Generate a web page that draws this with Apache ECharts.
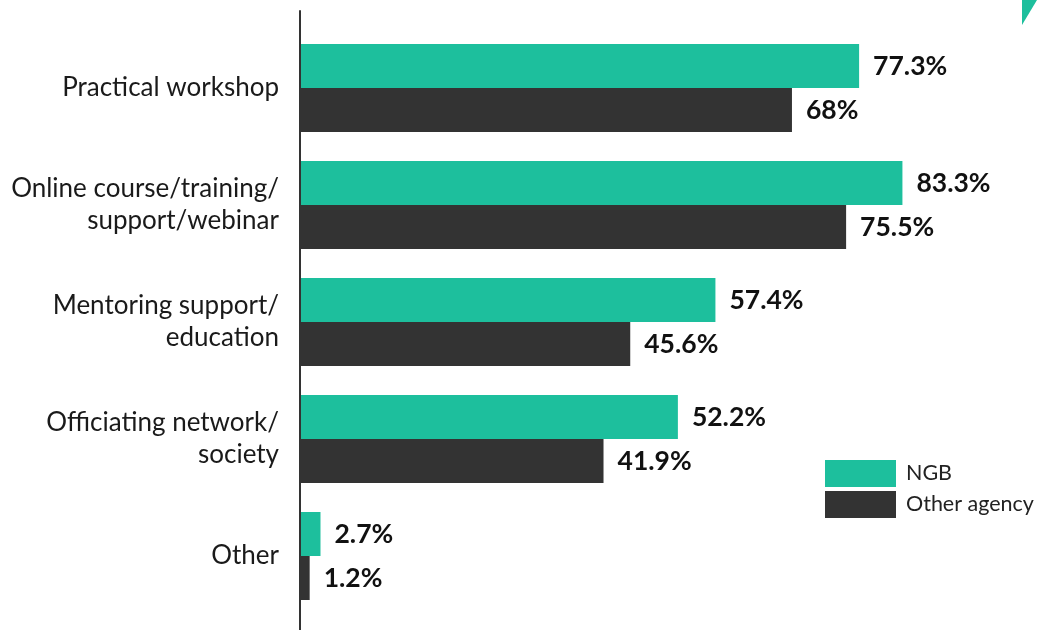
<!DOCTYPE html>
<html>
<head>
<meta charset="utf-8">
<script src="https://cdn.jsdelivr.net/npm/echarts@6/dist/echarts.min.js"></script>
<style>
  html, body { margin: 0; padding: 0; background: #fff; }
  #chart { width: 1038px; height: 630px; }
</style>
</head>
<body>
<div id="chart"></div>
<script>
// Support types and the share of respondents choosing each one
const categories = [
  'Practical workshop',
  'Online course/training/\nsupport/webinar',
  'Mentoring support/\neducation',
  'Officiating network/\nsociety',
  'Other'
];
const seriesNames = ['NGB', 'Other agency'];
const ngbValues = [77.3, 83.3, 57.4, 52.2, 2.7];
const otherAgencyValues = [68, 75.5, 45.6, 41.9, 1.2];

const GREEN = '#1dbf9d';
const DARK = '#333333';
const FONT = 'Lato, "Open Sans", sans-serif';

const chart = echarts.init(document.getElementById('chart'));

const valueLabel = {
  show: true,
  position: 'right',
  distance: 14,
  formatter: p => p.value + '%',
  color: '#111',
  fontFamily: FONT,
  fontWeight: 'bold',
  fontSize: 26.5
};

chart.setOption({
  animation: false,
  backgroundColor: '#fff',
  grid: [
    { left: 301, right: 15, top: 29.5, bottom: 15.5, containLabel: false },
    { left: 300, right: 15, top: 11, bottom: 0, containLabel: false }
  ],
  legend: {
    data: seriesNames,
    orient: 'vertical',
    left: 825,
    top: 460,
    itemWidth: 71,
    itemHeight: 27,
    itemGap: 4,
    icon: 'rect',
    padding: 0,
    textStyle: {
      fontFamily: FONT,
      fontSize: 21.5,
      color: '#222',
      padding: [0, 0, 0, 5]
    }
  },
  xAxis: [
    { gridIndex: 0, type: 'value', min: 0, max: 100, show: false },
    { gridIndex: 1, type: 'value', min: 0, max: 1, show: false }
  ],
  yAxis: [
    {
      gridIndex: 0,
      type: 'category',
      data: categories,
      inverse: true,
      axisLine: { show: false },
      axisTick: { show: false },
      axisLabel: {
        margin: 22,
        fontFamily: FONT,
        fontSize: 26,
        lineHeight: 32,
        color: '#1a1a1a',
        align: 'right'
      }
    },
    {
      gridIndex: 1,
      type: 'value',
      min: 0,
      max: 1,
      axisLine: { show: true, lineStyle: { color: DARK, width: 2 } },
      axisTick: { show: false },
      axisLabel: { show: false },
      splitLine: { show: false }
    }
  ],
  series: [
    {
      name: seriesNames[0],
      type: 'bar',
      xAxisIndex: 0,
      yAxisIndex: 0,
      data: ngbValues,
      barWidth: 44,
      barGap: '0%',
      itemStyle: { color: GREEN },
      label: valueLabel
    },
    {
      name: seriesNames[1],
      type: 'bar',
      xAxisIndex: 0,
      yAxisIndex: 0,
      data: otherAgencyValues,
      barWidth: 44,
      barGap: '0%',
      itemStyle: { color: DARK },
      label: valueLabel
    }
  ],
  graphic: [
    {
      type: 'polygon',
      shape: { points: [[1022, 0], [1037, 0], [1022, 25]] },
      style: { fill: GREEN }
    }
  ]
});
</script>
</body>
</html>
